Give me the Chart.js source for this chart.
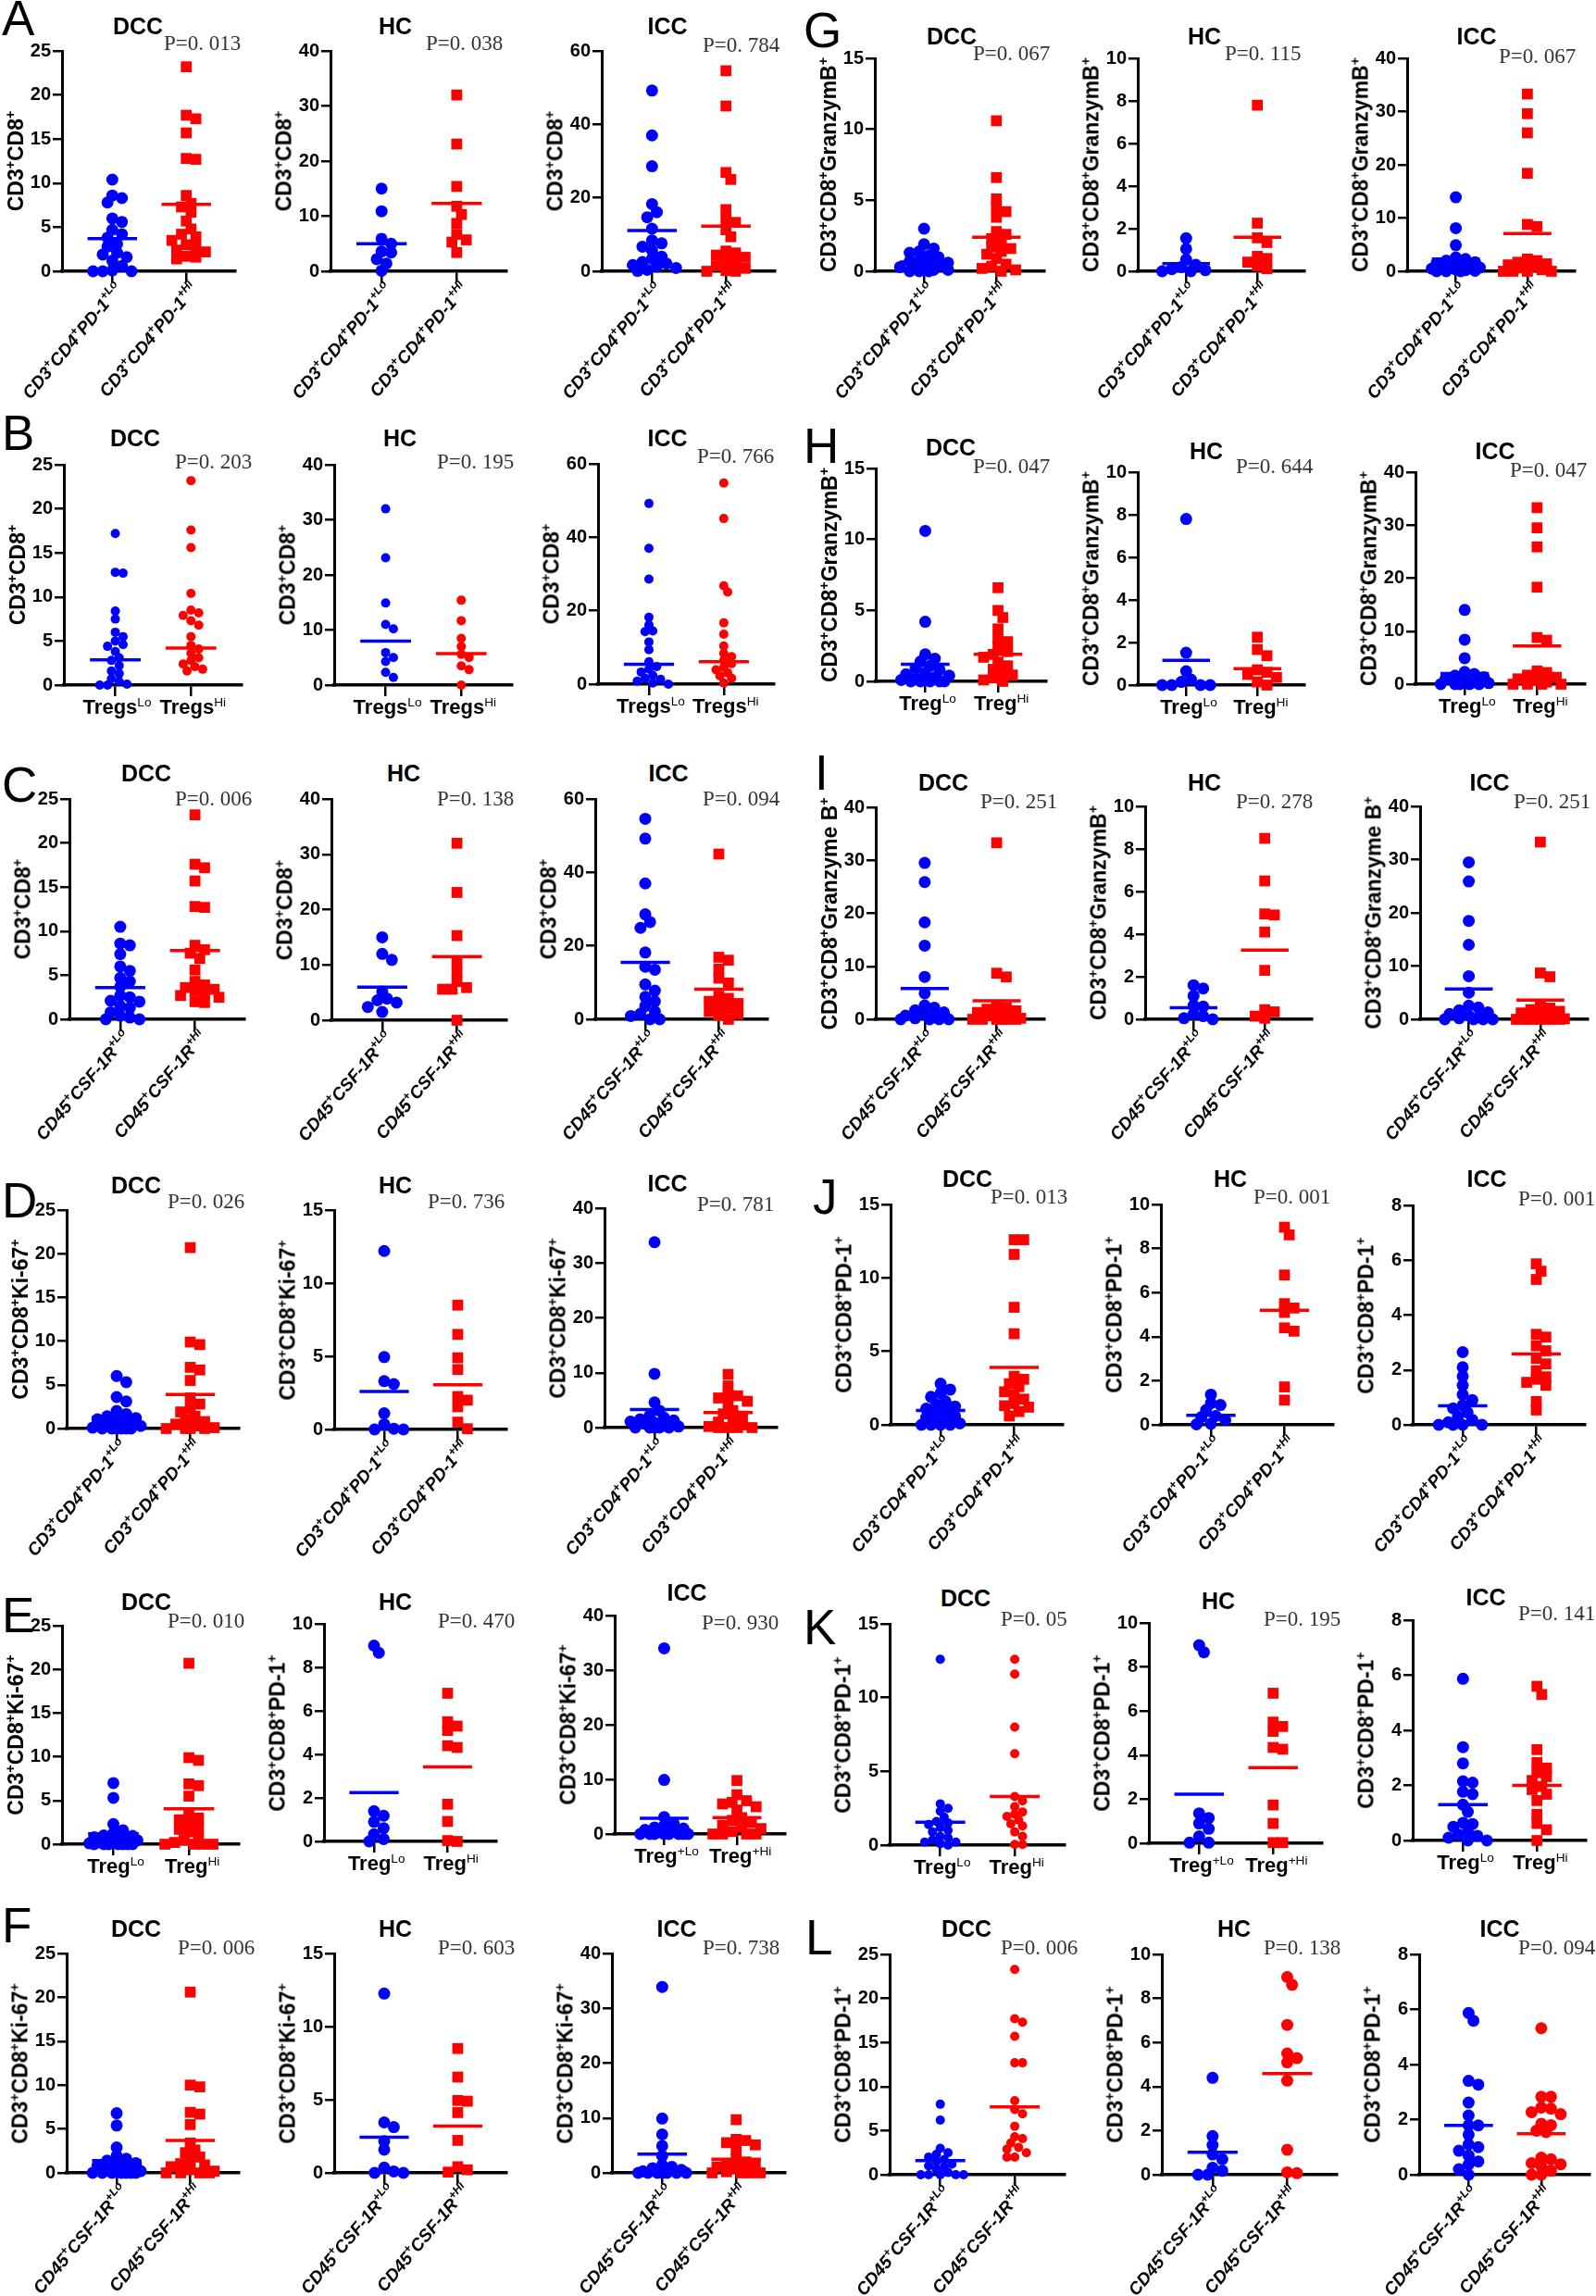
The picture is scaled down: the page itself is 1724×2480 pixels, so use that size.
<!DOCTYPE html>
<html>
<head>
<meta charset="utf-8">
<script src="https://cdn.jsdelivr.net/npm/chart.js@4.4.1/dist/chart.umd.min.js"></script>
<style>
html, body { margin: 0; padding: 0; background: #fff; }
#fig { position: relative; width: 1724px; height: 2480px; overflow: hidden; background: #fff; }
.t { position: absolute; white-space: nowrap; line-height: 1; color: #000; font-family: 'Liberation Sans', Arial, sans-serif; }
.s { font-size: 0.62em; position: relative; top: -0.6em; }
.letter { font-size: 53px; }
.title { font-family: 'Liberation Sans Narrow', 'Liberation Sans', Arial, sans-serif; font-weight: bold; font-size: 25px; transform: translate(-50%, -50%); }
.pval { font-family: 'Liberation Serif', 'DejaVu Serif', serif; font-size: 23px; color: #333; transform: translateY(-50%); }
.ytitle { font-weight: bold; font-size: 23px; transform: translate(-50%, -50%) rotate(-90deg); }
.xrot { font-weight: bold; font-style: italic; font-size: 19px; transform-origin: 100% 50%; transform: translateY(-50%) rotate(-50deg); }
.xrot .s { font-size: 0.66em; }
.xh { font-family: 'Liberation Sans Narrow', 'Liberation Sans', Arial, sans-serif; font-weight: bold; font-size: 22px; transform: translate(-50%, -50%); }
.xh .s { font-weight: normal; }
canvas { position: absolute; }
</style>
</head>
<body>
<div id="fig"></div>
<script>
// groups and categories
const groups = ["DCC", "HC", "ICC"];
const cats = ["Lo", "Hi"];

// ---- A : CD3+CD8+ by CD3+CD4+PD-1 ----
const aDccLo = [10.4, 8.6, 8.3, 7.8, 6.0, 5.6, 4.7, 4.2, 3.8, 3.1, 2.8, 2.1, 1.9, 1.6, 1.2, 0.6, 0.1, 0, 0, 0];
const aDccHi = [23.2, 17.7, 17.3, 15.7, 12.8, 12.7, 8.6, 7.7, 7.3, 6.7, 5.7, 4.8, 4.2, 3.9, 3.5, 3.0, 2.8, 2.4, 2.2, 1.7, 1.6, 1.4];
const aDccMean = [3.7, 7.6];
const aHcLo = [15.0, 10.9, 5.9, 5.0, 3.6, 3.4, 2.2, 1.4, 0.1];
const aHcHi = [32.0, 23.1, 15.4, 11.8, 10.3, 8.7, 6.7, 5.7, 5.3, 3.4];
const aHcMean = [5.0, 12.3];
const aIccLo = [49.2, 37.0, 28.6, 18.3, 16.1, 14.7, 11.6, 8.4, 7.6, 6.7, 5.7, 4.0, 3.4, 2.5, 2.1, 1.7, 1.3, 0.9, 0.4, 0.1];
const aIccHi = [54.6, 45.0, 26.9, 25.0, 16.8, 14.1, 13.3, 11.3, 9.4, 5.5, 5.0, 4.4, 3.8, 2.7, 2.1, 1.5, 0.8, 0.2, 0, 0];
const aIccMean = [11.1, 12.3];
const aP = ["P=0. 013", "P=0. 038", "P=0. 784"];
const aYMax = [25, 40, 60];
const aYStep = [5, 10, 20];

// ---- B : CD3+CD8+ by Tregs ----
const bDccLo = [17.2, 12.8, 12.7, 8.4, 7.5, 6.0, 5.5, 5.0, 4.6, 4.4, 3.8, 3.1, 2.8, 2.2, 1.6, 1.3, 0.7, 0.4, 0.1, 0, 0];
const bDccHi = [23.2, 17.6, 15.6, 10.4, 8.5, 8.2, 7.9, 7.3, 6.8, 5.5, 4.5, 4.1, 3.6, 3.1, 2.8, 2.4, 2.1, 1.8, 1.6];
const bDccMean = [2.85, 4.2];
const bHcLo = [32.0, 23.1, 14.9, 11.0, 10.2, 5.9, 5.0, 4.3, 2.3, 1.4];
const bHcHi = [15.4, 11.7, 8.5, 7.0, 5.6, 5.0, 3.5, 2.8, 0];
const bHcMean = [8.0, 5.7];
const bIccLo = [49.2, 37.0, 28.6, 18.2, 16.1, 14.5, 14.3, 11.5, 9.4, 6.1, 4.8, 4.1, 3.3, 2.4, 1.6, 1.3, 0.8, 0.3, 0];
const bIccHi = [54.8, 45.1, 26.8, 25.1, 16.7, 13.6, 10.4, 8.4, 7.5, 6.5, 5.6, 4.6, 3.9, 3.1, 2.3, 1.6, 0.3];
const bIccMean = [5.4, 6.1];
const bP = ["P=0. 203", "P=0. 195", "P=0. 766"];
const bYMax = [25, 40, 60];
const bYStep = [5, 10, 20];

// ---- C : CD3+CD8+ by CD45+CSF-1R ----
const cDccLo = [10.5, 8.6, 8.4, 7.4, 6.0, 5.5, 4.7, 4.3, 3.7, 2.7, 2.5, 2.1, 2.0, 1.5, 1.3, 0.8, 0.4, 0.2, 0, 0];
const cDccHi = [23.2, 17.6, 17.2, 15.7, 12.8, 12.7, 8.4, 7.9, 7.5, 6.9, 5.6, 4.3, 3.9, 3.6, 3.4, 3.2, 2.9, 2.7, 2.5, 2.0, 1.9];
const cDccMean = [3.6, 7.8];
const cHcLo = [15.0, 12.0, 10.9, 5.2, 3.9, 3.6, 3.2, 2.4, 1.5];
const cHcHi = [32.0, 23.1, 15.3, 10.3, 8.7, 7.0, 5.9, 5.6, 5.6, 0];
const cHcMean = [6.0, 11.5];
const cIccLo = [54.6, 49.2, 37.0, 28.6, 26.5, 24.9, 18.2, 14.3, 13.5, 9.5, 7.8, 6.1, 4.9, 3.6, 2.1, 1.5, 0.9, 0, 0];
const cIccHi = [45.0, 16.9, 16.1, 13.7, 11.2, 9.9, 6.3, 5.7, 4.9, 4.3, 3.6, 2.9, 2.1, 1.5, 1.1, 0];
const cIccMean = [15.5, 8.2];
const cP = ["P=0. 006", "P=0. 138", "P=0. 094"];
const cYMax = [25, 40, 60];
const cYStep = [5, 10, 20];

// ---- D : CD3+CD8+Ki-67+ by CD3+CD4+PD-1 ----
const dDccLo = [6.0, 5.3, 3.6, 3.1, 2.0, 1.65, 1.4, 1.2, 1.05, 0.8, 0.6, 0.5, 0.3, 0.1, 0, 0, 0, 0, 0, 0];
const dDccHi = [20.7, 9.9, 9.6, 7.0, 6.7, 5.5, 3.5, 2.8, 2.3, 1.9, 1.4, 1.05, 0.8, 0.5, 0.3, 0.1, 0, 0, 0, 0];
const dDccMean = [1.3, 3.9];
const dHcLo = [12.2, 4.95, 3.3, 3.1, 1.1, 0.35, 0.05, 0, 0];
const dHcHi = [8.5, 6.5, 4.9, 4.1, 2.25, 2.0, 1.55, 0.5, 0.05];
const dHcMean = [2.6, 3.05];
const dIccLo = [33.8, 9.8, 4.6, 3.1, 2.2, 1.8, 1.5, 1.3, 1.1, 0.9, 0.7, 0.4, 0.2, 0, 0, 0, 0, 0];
const dIccHi = [9.7, 7.6, 6.0, 5.8, 5.4, 4.8, 4.4, 3.1, 2.5, 2.1, 1.4, 1.0, 0.5, 0.2, 0, 0, 0, 0];
const dIccMean = [3.3, 2.75];
const dP = ["P=0. 026", "P=0. 736", "P=0. 781"];
const dYMax = [25, 15, 40];
const dYStep = [5, 5, 10];

// ---- E : Ki-67 / PD-1 by Treg ----
const eDccLo = [7.0, 5.3, 2.3, 1.6, 1.25, 1.0, 0.95, 0.8, 0.7, 0.5, 0.45, 0.25, 0.1, 0, 0, 0, 0, 0, 0, 0];
const eDccHi = [20.7, 9.9, 9.6, 6.9, 6.7, 5.5, 3.4, 3.0, 2.8, 2.4, 1.95, 1.7, 1.4, 0.9, 0.5, 0.2, 0, 0, 0, 0];
const eDccMean = [1.2, 4.05];
const eHcLo = [9.0, 8.67, 1.39, 1.18, 0.9, 0.61, 0.33, 0.11, 0];
const eHcHi = [6.81, 5.5, 5.3, 5.1, 4.4, 4.32, 1.71, 0.92, 0.04, 0];
const eHcMean = [2.24, 3.43];
const eIccLo = [34.0, 9.9, 3.1, 1.9, 1.5, 1.2, 1.0, 0.75, 0.5, 0.35, 0, 0, 0, 0, 0, 0, 0, 0];
const eIccHi = [9.8, 7.2, 6.1, 5.8, 5.5, 5.0, 4.4, 3.0, 2.5, 2.1, 1.6, 1.3, 1.0, 0.45, 0, 0, 0, 0];
const eIccMean = [2.9, 3.0];
const eP = ["P=0. 010", "P=0. 470", "P=0. 930"];
const eYMax = [25, 10, 40];
const eYStep = [5, 2, 10];

// ---- F : CD3+CD8+Ki-67+ by CD45+CSF-1R ----
const fDccLo = [6.8, 5.4, 2.9, 1.95, 1.6, 1.4, 1.1, 1.0, 0.8, 0.6, 0.4, 0.2, 0.1, 0, 0, 0, 0, 0, 0, 0];
const fDccHi = [20.6, 10.0, 9.8, 6.9, 6.7, 5.5, 3.4, 2.6, 2.3, 1.8, 1.4, 1.05, 0.9, 0.7, 0.35, 0.2, 0, 0, 0, 0];
const fDccMean = [1.4, 3.7];
const fHcLo = [12.26, 3.45, 3.13, 2.16, 1.59, 0.36, 0.1, 0, 0];
const fHcHi = [8.5, 6.55, 4.95, 4.9, 4.12, 2.22, 0.42, 0.21, 0.05];
const fHcMean = [2.43, 3.2];
const fIccLo = [33.9, 9.9, 7.0, 4.9, 3.1, 1.4, 1.1, 0.85, 0.55, 0.3, 0, 0, 0, 0, 0, 0, 0];
const fIccHi = [9.7, 6.1, 5.9, 5.5, 5.1, 4.2, 2.5, 2.0, 1.7, 1.4, 1.1, 0.85, 0.45, 0.2, 0, 0, 0, 0];
const fIccMean = [3.4, 2.5];
const fP = ["P=0. 006", "P=0. 603", "P=0. 738"];
const fYMax = [25, 15, 40];
const fYStep = [5, 5, 10];

// ---- G : GranzymB by CD3+CD4+PD-1 ----
const gDccLo = [3.0, 1.9, 1.6, 1.4, 1.3, 1.1, 1.0, 0.8, 0.7, 0.6, 0.5, 0.4, 0.3, 0.3, 0.2, 0.1, 0.1, 0, 0, 0];
const gDccHi = [10.6, 6.6, 5.1, 4.5, 4.2, 3.8, 2.8, 2.6, 2.3, 2.0, 1.7, 1.6, 1.4, 1.2, 0.9, 0.5, 0.35, 0.2, 0.1, 0];
const gDccMean = [0.65, 2.4];
const gHcLo = [1.55, 1.05, 0.55, 0.3, 0.2, 0.1, 0.05, 0, 0];
const gHcHi = [7.8, 2.26, 1.57, 1.35, 0.7, 0.6, 0.43, 0.26, 0.12];
const gHcMean = [0.36, 1.6];
const gIccLo = [13.9, 8.1, 4.9, 2.6, 2.3, 2.0, 1.7, 1.5, 1.3, 1.1, 0.9, 0.7, 0.6, 0.5, 0.3, 0.2, 0.1, 0, 0, 0];
const gIccHi = [33.3, 29.6, 26.0, 18.4, 8.8, 8.4, 2.3, 2.0, 1.7, 1.4, 1.2, 0.9, 0.6, 0.3, 0, 0, 0, 0];
const gIccMean = [2.3, 7.1];
const gP = ["P=0. 067", "P=0. 115", "P=0. 067"];
const gYMax = [15, 10, 40];
const gYStep = [5, 2, 10];

// ---- H : GranzymB by Treg ----
const hDccLo = [10.6, 4.2, 1.9, 1.6, 1.4, 1.1, 0.9, 0.8, 0.6, 0.5, 0.4, 0.3, 0.2, 0.1, 0.1, 0, 0, 0, 0, 0];
const hDccHi = [6.6, 5.0, 4.5, 3.7, 3.0, 2.8, 2.4, 2.1, 1.9, 1.7, 1.35, 1.1, 0.85, 0.6, 0.45, 0.25, 0.1, 0];
const hDccMean = [1.2, 1.9];
const hHcLo = [7.8, 1.52, 0.65, 0.26, 0.15, 0, 0, 0, 0];
const hHcHi = [2.25, 1.67, 1.38, 0.72, 0.6, 0.5, 0.36, 0.15, 0];
const hHcMean = [1.16, 0.77];
const hIccLo = [14.0, 8.4, 4.9, 2.3, 1.9, 1.6, 1.3, 1.0, 0.7, 0.4, 0.2, 0, 0, 0, 0, 0];
const hIccHi = [33.3, 29.5, 25.9, 18.3, 8.8, 8.3, 2.5, 2.2, 1.7, 1.3, 1.0, 0.7, 0.4, 0, 0, 0, 0];
const hIccMean = [2.0, 7.2];
const hP = ["P=0. 047", "P=0. 644", "P=0. 047"];
const hYMax = [15, 10, 40];
const hYStep = [5, 2, 10];

// ---- I : Granzyme B by CD45+CSF-1R ----
const iDccLo = [29.5, 25.9, 18.3, 13.9, 8.0, 4.9, 2.6, 2.2, 1.7, 1.3, 1.0, 0.7, 0.4, 0.2, 0, 0, 0, 0];
const iDccHi = [33.3, 8.7, 8.0, 2.4, 2.2, 1.9, 1.6, 1.3, 1.0, 0.7, 0.4, 0.2, 0, 0, 0, 0, 0, 0];
const iDccMean = [5.8, 3.5];
const iHcLo = [1.6, 1.45, 1.1, 0.65, 0.6, 0.25, 0.15, 0.05, 0];
const iHcHi = [8.5, 6.5, 4.95, 4.9, 4.1, 2.3, 0.45, 0.35, 0.15, 0.05];
const iHcMean = [0.54, 3.25];
const iIccLo = [29.5, 25.9, 18.5, 14.0, 8.1, 5.0, 2.55, 2.2, 1.7, 1.3, 1.0, 0.7, 0.4, 0.2, 0, 0, 0, 0];
const iIccHi = [33.3, 8.7, 8.0, 2.4, 2.1, 1.8, 1.5, 1.2, 0.9, 0.6, 0.3, 0.1, 0, 0, 0, 0, 0, 0];
const iIccMean = [5.7, 3.6];
const iP = ["P=0. 251", "P=0. 278", "P=0. 251"];
const iYMax = [40, 10, 40];
const iYStep = [10, 2, 10];

// ---- J : CD3+CD8+PD-1+ by CD3+CD4+PD-1 ----
const jDccLo = [2.8, 2.4, 2.15, 1.9, 1.6, 1.4, 1.25, 1.1, 0.95, 0.8, 0.6, 0.5, 0.35, 0.2, 0.1, 0, 0, 0, 0];
const jDccHi = [12.6, 12.6, 11.6, 8.0, 6.2, 3.3, 3.1, 2.8, 2.6, 2.25, 2.05, 1.75, 1.45, 1.3, 1.2, 0.9, 0.6];
const jDccMean = [0.97, 3.9];
const jHcLo = [1.37, 0.98, 0.9, 0.67, 0.4, 0.35, 0.22, 0.05, 0.02];
const jHcHi = [8.97, 8.62, 6.8, 5.5, 5.3, 5.1, 4.4, 4.25, 1.72, 1.12];
const jHcMean = [0.43, 5.2];
const jIccLo = [2.65, 2.1, 1.77, 1.44, 1.1, 0.9, 0.71, 0.6, 0.45, 0.31, 0.18, 0.09, 0, 0, 0, 0];
const jIccHi = [5.87, 5.6, 5.3, 3.3, 3.2, 2.88, 2.7, 2.42, 2.22, 1.97, 1.75, 1.66, 1.55, 1.44, 0.85, 0.54];
const jIccMean = [0.69, 2.58];
const jP = ["P=0. 013", "P=0. 001", "P=0. 001"];
const jYMax = [15, 10, 8];
const jYStep = [5, 2, 2];

// ---- K : CD3+CD8+PD-1+ by Treg ----
const kDccLo = [12.6, 2.8, 2.5, 2.3, 1.9, 1.6, 1.5, 1.4, 1.2, 1.0, 0.9, 0.6, 0.5, 0.35, 0.2, 0.2, 0.1, 0];
const kDccHi = [12.6, 11.6, 8.0, 6.2, 3.3, 3.0, 2.6, 2.25, 2.1, 1.95, 1.7, 1.45, 1.3, 0.9, 0.6, 0.05, 0.05];
const kDccMean = [1.55, 3.3];
const kHcLo = [8.99, 8.67, 1.36, 1.15, 0.9, 0.66, 0.31, 0.03, 0.03];
const kHcHi = [6.81, 5.5, 5.3, 5.08, 4.35, 4.27, 1.74, 0.9, 0.03, 0.03];
const kHcMean = [2.23, 3.43];
const kIccLo = [5.87, 3.39, 2.8, 2.15, 2.1, 1.77, 1.68, 1.3, 1.04, 0.64, 0.6, 0.5, 0.34, 0.22, 0.17, 0.1, 0, 0];
const kIccHi = [5.6, 5.3, 3.3, 2.83, 2.63, 2.46, 2.32, 2.18, 1.96, 1.85, 1.68, 1.45, 0.95, 0.62, 0.39, 0];
const kIccMean = [1.3, 2.0];
const kP = ["P=0. 05", "P=0. 195", "P=0. 141"];
const kYMax = [15, 10, 8];
const kYStep = [5, 2, 2];

// ---- L : CD3+CD8+PD-1+ by CD45+CSF-1R ----
const lDccLo = [8.0, 6.2, 3.0, 2.5, 2.3, 2.0, 1.7, 1.5, 1.2, 1.0, 0.9, 0.6, 0.25, 0, 0, 0, 0, 0];
const lDccHi = [23.3, 17.7, 17.3, 15.7, 12.7, 12.7, 8.4, 7.4, 6.9, 5.5, 4.3, 4.1, 3.6, 3.1, 2.9, 2.5, 2.0, 2.0];
const lDccMean = [1.6, 7.7];
const lHcLo = [4.4, 1.75, 1.34, 0.92, 0.7, 0.32, 0.18, 0, 0];
const lHcHi = [8.97, 8.62, 6.8, 5.5, 5.29, 5.1, 4.27, 1.13, 0.11, 0.07];
const lHcMean = [1.02, 4.59];
const lIccLo = [5.87, 5.59, 3.41, 3.27, 2.62, 2.15, 1.79, 1.79, 1.45, 1.1, 1.0, 0.87, 0.7, 0.48, 0.37, 0.2, 0];
const lIccHi = [5.32, 2.83, 2.83, 2.44, 2.4, 2.27, 2.2, 1.85, 1.8, 1.6, 1.55, 0.62, 0.56, 0.42, 0.38, 0.31, 0.15, 0, 0];
const lIccMean = [1.79, 1.49];
const lP = ["P=0. 006", "P=0. 138", "P=0. 094"];
const lYMax = [25, 10, 8];
const lYStep = [5, 2, 2];

// axis titles and category labels (^x / ^{..} = superscript)
const Y_CD8 = "CD3^+CD8^+";
const Y_KI = "CD3^+CD8^+Ki-67^+";
const Y_PD1 = "CD3^+CD8^+PD-1^+";
const Y_GZ = "CD3^+CD8^+GranzymB^+";
const Y_GZ2 = "CD3^+CD8^+Granzyme B^+";
const xLabels = {
  pd1: ["CD3^+CD4^+PD-1^{+Lo}", "CD3^+CD4^+PD-1^{+Hi}"],
  csf: ["CD45^+CSF-1R^{+Lo}", "CD45^+CSF-1R^{+Hi}"],
  tregs: ["Tregs^{Lo}", "Tregs^{Hi}"],
  treg: ["Treg^{Lo}", "Treg^{Hi}"],
  tregp: ["Treg^{+Lo}", "Treg^{+Hi}"]
};

// layout: per sub-plot [axisX, axisEndX, topY, zeroY, titleX, titleY, pX, pY]
const rows = [
  { letter: "A", lx: 2, ly: 0,
    geo: [[67, 257, 55, 293, 149, 28, 177, 46], [357, 550, 55, 293, 427, 28, 460, 46], [650, 840, 55, 293, 721, 28, 759, 48]],
    data: [[aDccLo, aDccHi, aDccMean], [aHcLo, aHcHi, aHcMean], [aIccLo, aIccHi, aIccMean]],
    p: aP, yMax: aYMax, yStep: aYStep, yTitle: [Y_CD8, Y_CD8, Y_CD8], xl: ["pd1", "pd1", "pd1"],
    red: ["rect", "rect", "rect"], small: [false, false, false] },
  { letter: "B", lx: 2, ly: 448,
    geo: [[69, 261, 502, 740, 146, 473, 189, 498], [361, 553, 502, 740, 432, 473, 472, 498], [646, 836, 501, 739, 721, 473, 753, 492]],
    data: [[bDccLo, bDccHi, bDccMean], [bHcLo, bHcHi, bHcMean], [bIccLo, bIccHi, bIccMean]],
    p: bP, yMax: bYMax, yStep: bYStep, yTitle: [Y_CD8, Y_CD8, Y_CD8], xl: ["tregs", "tregs", "tregs"],
    red: ["circle", "circle", "circle"], small: [true, true, true] },
  { letter: "C", lx: 2, ly: 828,
    geo: [[75, 267, 863, 1101, 158, 835, 189, 862], [358, 550, 863, 1102, 436, 835, 472, 862], [643, 832, 863, 1101, 722, 835, 759, 862]],
    data: [[cDccLo, cDccHi, cDccMean], [cHcLo, cHcHi, cHcMean], [cIccLo, cIccHi, cIccMean]],
    p: cP, yMax: cYMax, yStep: cYStep, yTitle: [Y_CD8, Y_CD8, Y_CD8], xl: ["csf", "csf", "csf"],
    red: ["rect", "rect", "rect"], small: [false, false, false] },
  { letter: "D", lx: 2, ly: 1277,
    geo: [[72, 261, 1307, 1543, 147, 1280, 181, 1297], [361, 550, 1307, 1544, 427, 1280, 462, 1297], [653, 842, 1305, 1542, 721, 1278, 753, 1300]],
    data: [[dDccLo, dDccHi, dDccMean], [dHcLo, dHcHi, dHcMean], [dIccLo, dIccHi, dIccMean]],
    p: dP, yMax: dYMax, yStep: dYStep, yTitle: [Y_KI, Y_KI, Y_KI], xl: ["pd1", "pd1", "pd1"],
    red: ["rect", "rect", "rect"], small: [false, false, false] },
  { letter: "E", lx: 2, ly: 1725,
    geo: [[67, 261, 1756, 1992, 158, 1730, 181, 1750], [350, 539, 1754, 1989, 427, 1730, 473, 1750], [664, 851, 1745, 1981, 742, 1720, 758, 1752]],
    data: [[eDccLo, eDccHi, eDccMean], [eHcLo, eHcHi, eHcMean], [eIccLo, eIccHi, eIccMean]],
    p: eP, yMax: eYMax, yStep: eYStep, yTitle: [Y_KI, Y_PD1, Y_KI], xl: ["treg", "treg", "tregp"],
    red: ["rect", "rect", "rect"], small: [false, false, false] },
  { letter: "F", lx: 2, ly: 2060,
    geo: [[72, 261, 2110, 2347, 147, 2083, 192, 2103], [361, 550, 2110, 2347, 427, 2083, 473, 2103], [661, 851, 2110, 2347, 731, 2083, 759, 2103]],
    data: [[fDccLo, fDccHi, fDccMean], [fHcLo, fHcHi, fHcMean], [fIccLo, fIccHi, fIccMean]],
    p: fP, yMax: fYMax, yStep: fYStep, yTitle: [Y_KI, Y_KI, Y_KI], xl: ["csf", "csf", "csf"],
    red: ["rect", "rect", "rect"], small: [false, false, false] },
  { letter: "G", lx: 868, ly: 13,
    geo: [[945, 1131, 63, 293, 1028, 39, 1051, 57], [1229, 1412, 63, 293, 1301, 39, 1323, 57], [1520, 1704, 63, 293, 1595, 39, 1619, 60]],
    data: [[gDccLo, gDccHi, gDccMean], [gHcLo, gHcHi, gHcMean], [gIccLo, gIccHi, gIccMean]],
    p: gP, yMax: gYMax, yStep: gYStep, yTitle: [Y_GZ, Y_GZ, Y_GZ], xl: ["pd1", "pd1", "pd1"],
    red: ["rect", "rect", "rect"], small: [false, false, false] },
  { letter: "H", lx: 868, ly: 462,
    geo: [[946, 1133, 506, 736, 1027, 483, 1051, 503], [1229, 1412, 510, 740, 1303, 487, 1335, 503], [1529, 1715, 510, 739, 1615, 487, 1631, 507]],
    data: [[hDccLo, hDccHi, hDccMean], [hHcLo, hHcHi, hHcMean], [hIccLo, hIccHi, hIccMean]],
    p: hP, yMax: hYMax, yStep: hYStep, yTitle: [Y_GZ, Y_GZ, Y_GZ], xl: ["treg", "treg", "treg"],
    red: ["rect", "rect", "rect"], small: [false, false, false] },
  { letter: "I", lx: 880, ly: 815,
    geo: [[946, 1131, 872, 1101, 1019, 845, 1059, 865], [1237, 1420, 871, 1101, 1301, 845, 1335, 865], [1534, 1718, 871, 1101, 1609, 845, 1635, 865]],
    data: [[iDccLo, iDccHi, iDccMean], [iHcLo, iHcHi, iHcMean], [iIccLo, iIccHi, iIccMean]],
    p: iP, yMax: iYMax, yStep: iYStep, yTitle: [Y_GZ2, Y_GZ, Y_GZ2], xl: ["csf", "csf", "csf"],
    red: ["rect", "rect", "rect"], small: [false, false, false] },
  { letter: "J", lx: 878, ly: 1273,
    geo: [[962, 1151, 1301, 1539, 1045, 1273, 1070, 1292], [1254, 1443, 1301, 1539, 1329, 1273, 1354, 1292], [1526, 1715, 1302, 1539, 1606, 1273, 1640, 1294]],
    data: [[jDccLo, jDccHi, jDccMean], [jHcLo, jHcHi, jHcMean], [jIccLo, jIccHi, jIccMean]],
    p: jP, yMax: jYMax, yStep: jYStep, yTitle: [Y_PD1, Y_PD1, Y_PD1], xl: ["pd1", "pd1", "pd1"],
    red: ["rect", "rect", "rect"], small: [false, false, false] },
  { letter: "K", lx: 868, ly: 1738,
    geo: [[961, 1150, 1754, 1993, 1043, 1726, 1081, 1748], [1241, 1431, 1753, 1991, 1316, 1729, 1365, 1748], [1526, 1716, 1750, 1988, 1605, 1725, 1640, 1742]],
    data: [[kDccLo, kDccHi, kDccMean], [kHcLo, kHcHi, kHcMean], [kIccLo, kIccHi, kIccMean]],
    p: kP, yMax: kYMax, yStep: kYStep, yTitle: [Y_PD1, Y_PD1, Y_PD1], xl: ["treg", "tregp", "treg"],
    red: ["circle", "rect", "rect"], small: [true, false, false] },
  { letter: "L", lx: 870, ly: 2073,
    geo: [[961, 1150, 2111, 2349, 1044, 2083, 1081, 2103], [1255, 1445, 2111, 2349, 1333, 2083, 1365, 2103], [1533, 1718, 2111, 2349, 1620, 2083, 1640, 2103]],
    data: [[lDccLo, lDccHi, lDccMean], [lHcLo, lHcHi, lHcMean], [lIccLo, lIccHi, lIccMean]],
    p: lP, yMax: lYMax, yStep: lYStep, yTitle: [Y_PD1, Y_PD1, Y_PD1], xl: ["csf", "csf", "csf"],
    red: ["circle", "circle", "circle"], small: [true, false, false] }
];

const BLUE = "#0000ff";
const RED = "#ff0000";
const X_MIN = 0.32, X_MAX = 2.67;
const FIG_W = 1724;

Chart.defaults.font.family = "'Liberation Sans Narrow', 'Liberation Sans', Arial, sans-serif";
Chart.defaults.color = "#000";

const fig = document.getElementById("fig");

// turn "CD3^+CD8^{+Lo}" into html with superscripts
function rich(s) {
  return s.replace(/\^\{([^}]*)\}|\^(.)/g, (m, a, b) => `<span class="s">${a !== undefined ? a : b}</span>`);
}

function addText(html, cls, css) {
  const el = document.createElement("div");
  el.className = "t " + cls;
  el.innerHTML = html;
  Object.assign(el.style, css);
  fig.appendChild(el);
  return el;
}

// beeswarm: spread close values sideways, but keep the group narrow (markers may overlap a bit)
function swarm(values, center, pxX, pxY, d) {
  const placed = [];
  const out = [];
  const order = values.map((v, i) => i).sort((a, b) => values[b] - values[a]);
  const step = d * 0.42;
  const maxOff = 27;
  const minGap = d * 0.72;
  order.forEach(i => {
    const y = values[i] * pxY;
    let best = 0, bestGap = -1;
    for (let k = 0; ; k++) {
      const cand = (k % 2 ? 1 : -1) * Math.ceil(k / 2) * step;
      if (Math.abs(cand) > maxOff) break;
      const gap = placed.length ? Math.min(...placed.map(p => Math.hypot(p.x - cand, p.y - y))) : Infinity;
      if (gap >= minGap) { best = cand; bestGap = gap; break; }
      if (gap > bestGap) { bestGap = gap; best = cand; }
    }
    placed.push({ x: best, y: y });
    out[i] = { x: center + best / pxX, y: values[i] };
  });
  return out;
}

function drawPlot(g, lo, hi, mean, yMax, yStep, redShape, small) {
  const [ax, ex, top, zero] = g;
  const yW = 50, padTop = 14, padRight = 6, xH = 16;
  const plotW = ex - ax, plotH = zero - top;
  const W = yW + plotW + padRight, H = padTop + plotH + xH;
  const cv = document.createElement("canvas");
  cv.width = W;
  cv.height = H;
  cv.style.left = (ax - yW) + "px";
  cv.style.top = (top - padTop) + "px";
  cv.style.width = W + "px";
  cv.style.height = H + "px";
  fig.appendChild(cv);

  const pxX = plotW / (X_MAX - X_MIN);
  const pxY = plotH / yMax;
  const rC = small ? 5 : 6.5;
  const rR = 8.3;
  const d = small ? 10 : 12.5;
  const half = 0.335;

  const chart = new Chart(cv, {
    type: "scatter",
    data: {
      datasets: [
        { type: "line", data: [{ x: 1 - half, y: mean[0] }, { x: 1 + half, y: mean[0] }], borderColor: BLUE, borderWidth: 3.5, pointRadius: 0, showLine: true, clip: false },
        { type: "line", data: [{ x: 2 - half, y: mean[1] }, { x: 2 + half, y: mean[1] }], borderColor: RED, borderWidth: 3.5, pointRadius: 0, showLine: true, clip: false },
        { data: swarm(lo, 1, pxX, pxY, d), pointStyle: "circle", pointRadius: rC, backgroundColor: BLUE, borderWidth: 0, clip: false },
        { data: swarm(hi, 2, pxX, pxY, d), pointStyle: redShape, pointRadius: redShape === "rect" ? rR : rC, backgroundColor: RED, borderWidth: 0, clip: false }
      ]
    },
    options: {
      responsive: false,
      animation: false,
      devicePixelRatio: 1,
      events: [],
      layout: { padding: { top: padTop, right: padRight, left: 0, bottom: 0 } },
      plugins: { legend: { display: false }, tooltip: { enabled: false } },
      scales: {
        x: {
          type: "linear", min: X_MIN, max: X_MAX,
          afterBuildTicks: s => { s.ticks = [{ value: 1 }, { value: 2 }]; },
          afterFit: s => { s.height = xH; },
          ticks: { display: false },
          grid: { display: true, drawOnChartArea: false, drawTicks: true, tickLength: 12, lineWidth: 2.5, color: "#000" },
          border: { display: true, width: 3.5, color: "#000" }
        },
        y: {
          min: 0, max: yMax,
          afterFit: s => { s.width = yW; },
          ticks: { stepSize: yStep, padding: 2, color: "#000", font: { size: 20, weight: "bold" } },
          grid: { display: true, drawOnChartArea: false, drawTicks: true, tickLength: 10, lineWidth: 2.5, color: "#000" },
          border: { display: true, width: 3, color: "#000" }
        }
      }
    }
  });
  // line the chart area up with the target axes
  const ca = chart.chartArea;
  cv.style.left = (ax - ca.left) + "px";
  cv.style.top = (top - ca.top) + "px";
  return c => ax + (c - X_MIN) * pxX;
}

rows.forEach(row => {
  addText(row.letter, "letter", { left: row.lx + "px", top: (row.ly - 7) + "px" });
  row.geo.forEach((g, j) => {
    const [lo, hi, mean] = row.data[j];
    const xPix = drawPlot(g, lo, hi, mean, row.yMax[j], row.yStep[j], row.red[j], row.small[j]);
    const [ax, ex, top, zero, tx, ty, px, py] = g;
    addText(groups[j], "title", { left: tx + "px", top: ty + "px" });
    addText(row.p[j], "pval", { left: px + "px", top: py + "px" });
    addText(rich(row.yTitle[j]), "ytitle", { left: (ax - 50) + "px", top: ((top + zero) / 2) + "px" });
    const labs = xLabels[row.xl[j]];
    const rotated = row.xl[j] === "pd1" || row.xl[j] === "csf";
    cats.forEach((c, k) => {
      const cx = xPix(k + 1);
      if (rotated) {
        addText(rich(labs[k]), "xrot", { right: (FIG_W - (cx + 7)) + "px", top: (zero + 15) + "px" });
      } else {
        addText(rich(labs[k]), "xh", { left: (cx + 2) + "px", top: (zero + 24) + "px" });
      }
    });
  });
});
</script>
</body>
</html>
